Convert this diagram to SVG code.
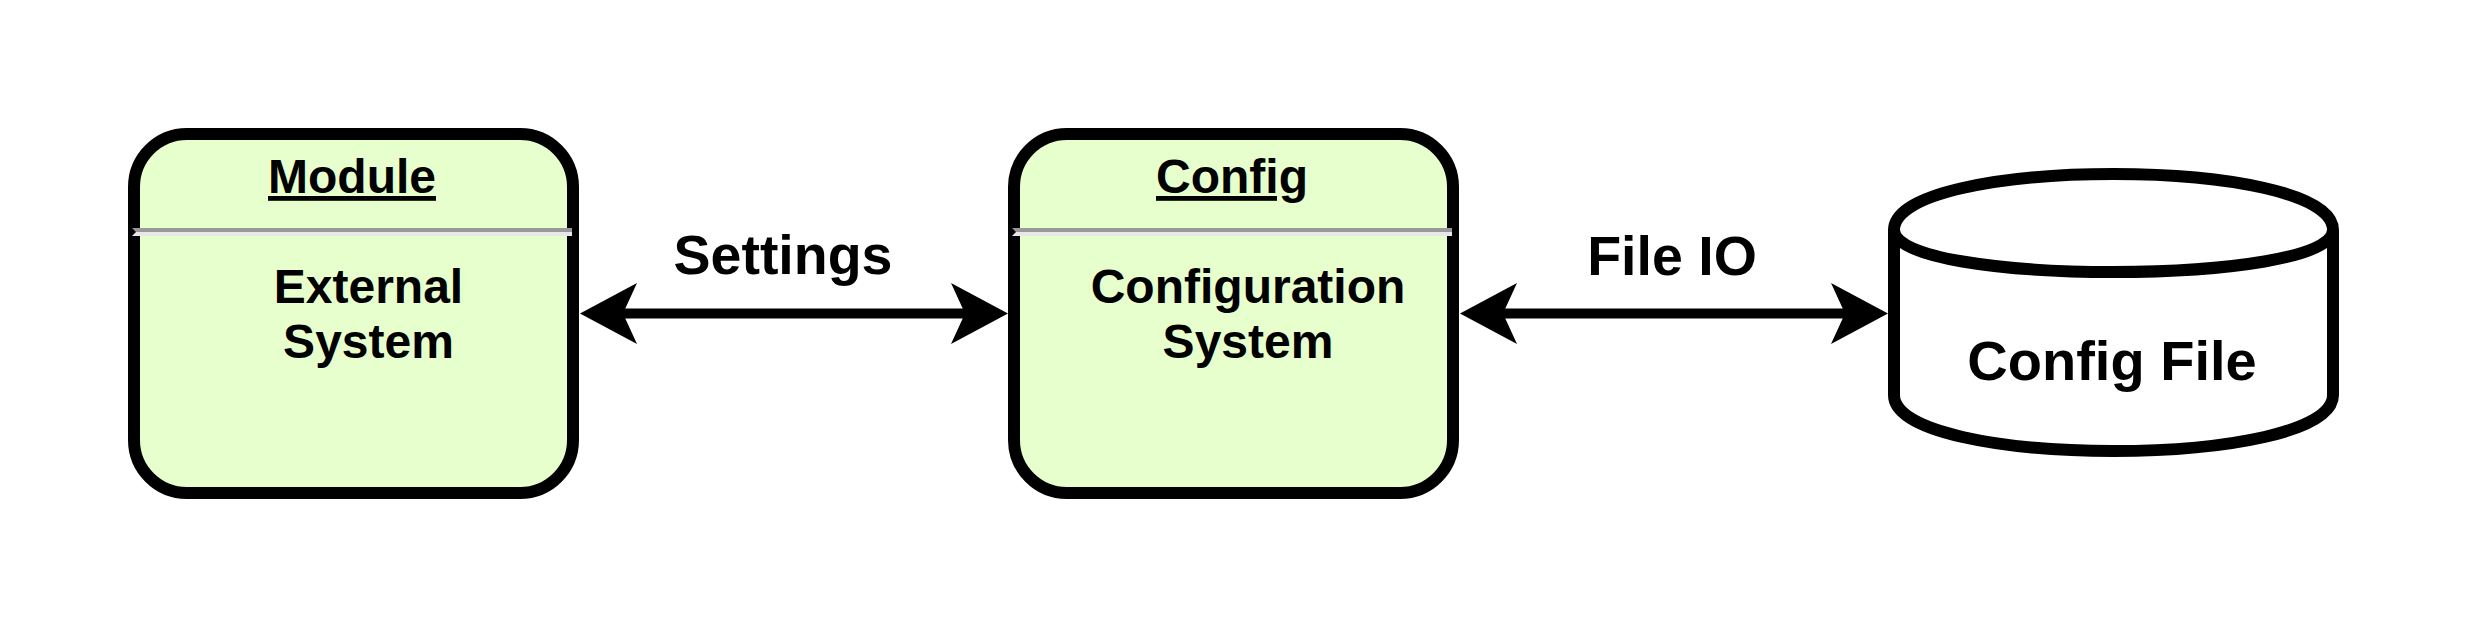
<svg xmlns="http://www.w3.org/2000/svg" width="2468" height="628" viewBox="0 0 2468 628">
<style>
.box{fill:#e6ffcc;stroke:#000;stroke-width:12}
.cyl{fill:#fff;stroke:#000;stroke-width:12}
.t{font-family:"Liberation Sans",Arial,sans-serif;font-weight:bold;fill:#000;text-anchor:middle}
.title{font-size:48px;text-decoration:underline}
.body{font-size:48px}
.lbl{font-size:55.5px}
.cf{font-size:56px}
.sepd{fill:#999999}
.sepl{fill:#e8e8e8}
.edge{stroke:#000;stroke-width:10;fill:none}
.head{fill:#000}
</style>
<rect width="2468" height="628" fill="#ffffff"/>
<g id="connectors">
  <g id="edge-settings">
    <line class="edge" x1="620" y1="313.5" x2="968" y2="313.5"/>
    <polygon class="head" points="580,313.5 637,283 623,313.5 637,344"/>
    <polygon class="head" points="1008,313.5 951,283 965,313.5 951,344"/>
    <text class="t lbl" x="783" y="274">Settings</text>
  </g>
  <g id="edge-fileio">
    <line class="edge" x1="1500" y1="313.5" x2="1848" y2="313.5"/>
    <polygon class="head" points="1460,313.5 1517,283 1503,313.5 1517,344"/>
    <polygon class="head" points="1888,313.5 1831,283 1845,313.5 1831,344"/>
    <text class="t lbl" x="1672" y="275">File IO</text>
  </g>
</g>
<g id="node-module">
  <rect class="box" x="134" y="134" width="439" height="359" rx="53" ry="53"/>
  <polygon class="sepd" points="132,228 572,228 572,232 136,232"/>
  <polygon class="sepl" points="136,232 572,232 572,236 132,236"/>
  <text class="t title" x="352" y="193">Module</text>
  <text class="t body" x="368.5" y="303">External</text>
  <text class="t body" x="368.5" y="358">System</text>
</g>
<g id="node-config">
  <rect class="box" x="1014" y="134" width="439" height="359" rx="53" ry="53"/>
  <polygon class="sepd" points="1012,228 1452,228 1452,232 1016,232"/>
  <polygon class="sepl" points="1016,232 1452,232 1452,236 1012,236"/>
  <text class="t title" x="1232" y="193">Config</text>
  <text class="t body" x="1248" y="303">Configuration</text>
  <text class="t body" x="1248" y="358">System</text>
</g>
<g id="node-configfile">
  <path class="cyl" d="M1894,230 C1894,155.3 2333,155.3 2333,230 L2333,395 C2333,469.7 1894,469.7 1894,395 Z"/>
  <path class="cyl" fill="none" d="M1894,230 C1894,286 2333,286 2333,230"/>
  <text class="t cf" x="2112" y="380">Config File</text>
</g>
</svg>
